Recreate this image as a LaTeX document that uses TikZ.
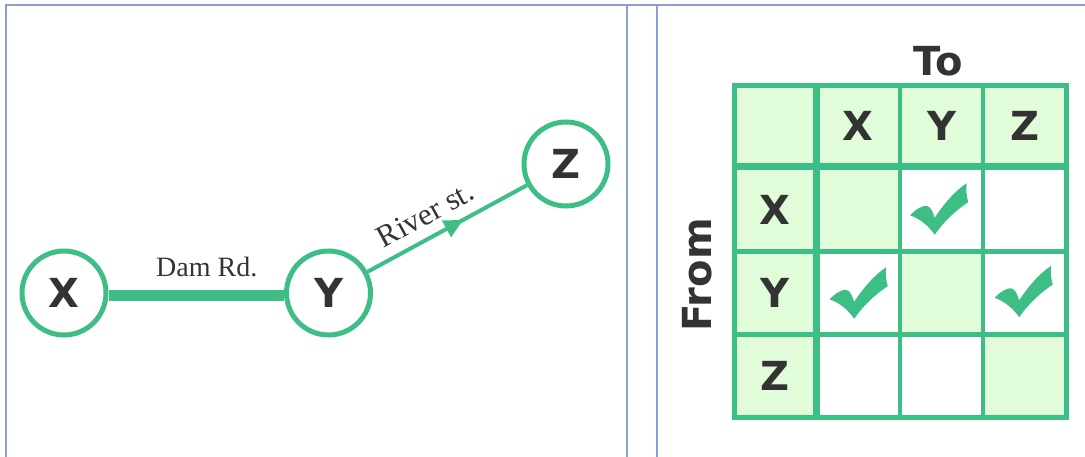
\documentclass[tikz,border=0pt]{standalone}
\usepackage{fontspec}
\setmainfont{Liberation Serif}
\newfontfamily\headfont{DejaVu Sans}
\usetikzlibrary{arrows.meta,decorations.markings}
\definecolor{gr}{HTML}{3DBE87}
\definecolor{lg}{HTML}{E0FCD8}
\definecolor{bl}{HTML}{8C9ED3}
\definecolor{tx}{HTML}{333333}
\begin{document}
\begin{tikzpicture}[x=1pt,y=-1pt,
  city/.style={circle, draw=gr, fill=white, line width=5pt, minimum size=84pt, inner sep=0pt,
    font=\headfont\bfseries\fontsize{40}{40}\selectfont, text=tx},
  roadlabel/.style={font=\fontsize{28}{28}\selectfont, text=tx},
  hdr/.style={font=\headfont\bfseries\fontsize{40}{40}\selectfont, text=tx},
  panel/.style={draw=bl, line width=2pt},
  thin/.style={draw=gr, line width=4.5pt},
  thick/.style={draw=gr, line width=7pt},
  tick/.pic={\fill[gr, scale=1.05] (-30,5.5) .. controls (-24,-0.5) and (-18,-4) .. (-14,-3.5)
     .. controls (-10,-2.5) and (-8,3) .. (-6.5,8)
     .. controls (2,-5) and (12,-17) .. (24,-25)
     .. controls (23,-18) and (24,-12) .. (25.5,-7)
     .. controls (12,2) and (2,12) .. (-6.5,24)
     .. controls (-12,16) and (-20,9) .. cycle;}
]
\useasboundingbox (0,0) rectangle (1085,457);
% panel borders
\draw[panel] (5.5,457) -- (5.5,5.5) -- (1085,5.5);
\draw[panel] (627,5.5) -- (627,457);
\draw[panel] (657,5.5) -- (657,457);

% left: graph
\node[city] (X) at (64,293) {X};
\node[city] (Y) at (328.5,293) {Y};
\node[city] (Z) at (566,164) {Z};
\draw[gr, line width=11pt] ([yshift=-3pt]X.east) -- node[roadlabel, pos=0.56, anchor=base, yshift=19pt] (dam) {Dam Rd.} ([yshift=-3pt]Y.west);
\draw[gr, line width=4pt, postaction=decorate,
  decoration={markings, mark=at position 0.6 with {\arrow{Triangle[length=19pt,width=18pt]}}}]
  (Y) -- node[roadlabel, font=\fontsize{31}{31}\selectfont, sloped, pos=0.43, above=7pt] (river) {River st.} (Z);

% right: table
\fill[lg] (734,85.5) rectangle (1066.5,167);
\fill[lg] (734,167) rectangle (816,417.5);
\fill[lg] (816,167) rectangle (900,251.5);
\fill[lg] (900,251.5) rectangle (983,334.5);
\fill[lg] (983,334.5) rectangle (1066.5,417.5);
\draw[thin] (900,85.5) -- (900,417.5);
\draw[thin] (983,85.5) -- (983,417.5);
\draw[thin] (734,251.5) -- (1066.5,251.5);
\draw[thin] (734,334.5) -- (1066.5,334.5);
\draw[thick] (816,85.5) -- (816,417.5);
\draw[thick] (734,167) -- (1066.5,167);
\draw[draw=gr, line width=5pt] (734,85.5) rectangle (1066.5,417.5);

\node[hdr] (cX) at (858,126) {X};
\node[hdr] (cY) at (941.5,126) {Y};
\node[hdr] (cZ) at (1025,126) {Z};
\node[hdr] (rX) at (775,210) {X};
\node[hdr] (rY) at (775,293) {Y};
\node[hdr] (rZ) at (775,376) {Z};
\node[hdr] (to) at (938,61) {To};
\node[hdr, rotate=90] (from) at (697.5,275) {From};

\pic at (941.5,209.5) {tick};
\pic at (861,293.5) {tick};
\pic at (1026,292) {tick};
\end{tikzpicture}
\end{document}
